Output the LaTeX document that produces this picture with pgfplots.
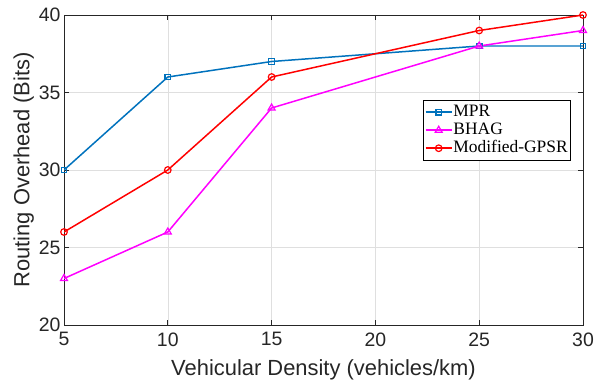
\documentclass[border=0pt]{standalone}
\usepackage{pgfplots}
\pgfplotsset{compat=1.18}
\usepackage{fontspec}
\setmainfont{Liberation Sans}
\newfontfamily\timesf{Liberation Serif}
\definecolor{mblue}{rgb}{0,0.447,0.741}
\definecolor{mmag}{rgb}{1,0,1}
\definecolor{mred}{rgb}{1,0,0}
\definecolor{axgray}{rgb}{0.15,0.15,0.15}
\begin{document}
\begin{tikzpicture}
\useasboundingbox (-64bp,-63bp) rectangle (533bp,325bp);
\begin{axis}[
  at={(0,0)}, anchor=south west,
  scale only axis, width=519bp, height=310bp,
  xmin=5, xmax=30, ymin=20, ymax=40,
  xtick={5,10,15,20,25,30}, ytick={20,25,30,35,40},
  tick align=inside, major tick length=5bp,
  axis line style={axgray, line width=0.8pt},
  tick style={axgray, line width=0.8pt},
  grid=major, major grid style={gray!25, line width=0.6pt},
  ticklabel style={font=\fontsize{19.5}{19.5}\selectfont, text=axgray},
  xticklabel style={yshift=-4bp},
  /pgf/number format/assume math mode=true,
  label style={font=\fontsize{22}{22}\selectfont, text=axgray},
  xlabel={Vehicular Density (vehicles/km)},
  ylabel={Routing Overhead (Bits)},
  xlabel style={yshift=-7bp},
  ylabel style={yshift=-2bp},
  legend style={at={(0.977,0.726)}, anchor=north east, draw=black, line width=0.6pt,
    font=\timesf\fontsize{17.5}{17.5}\selectfont, inner xsep=2bp, inner ysep=3bp, row sep=0bp,
    nodes={inner sep=1bp, text height=12bp, text depth=4bp}, cells={anchor=west}},
  legend image code/.code={\draw[mark repeat=2,mark phase=2,#1] plot coordinates {(0bp,0bp) (13bp,0bp) (26bp,0bp)};},
  legend cell align=left,
]
\addplot[mblue, line width=1.5pt, mark=square, mark size=2.8bp, mark options={solid, line width=1.2pt}]
  coordinates {(5,30) (10,36) (15,37) (25,38) (30,38)};
\addlegendentry{MPR}
\addplot[mmag, line width=1.5pt, mark=triangle, mark size=4bp, mark options={solid, line width=1.2pt}]
  coordinates {(5,23) (10,26) (15,34) (25,38) (30,39)};
\addlegendentry{BHAG}
\addplot[mred, line width=1.5pt, mark=o, mark size=3.3bp, mark options={solid, line width=1.2pt}]
  coordinates {(5,26) (10,30) (15,36) (25,39) (30,40)};
\addlegendentry{Modified-GPSR}
\end{axis}
\end{tikzpicture}
\end{document}
